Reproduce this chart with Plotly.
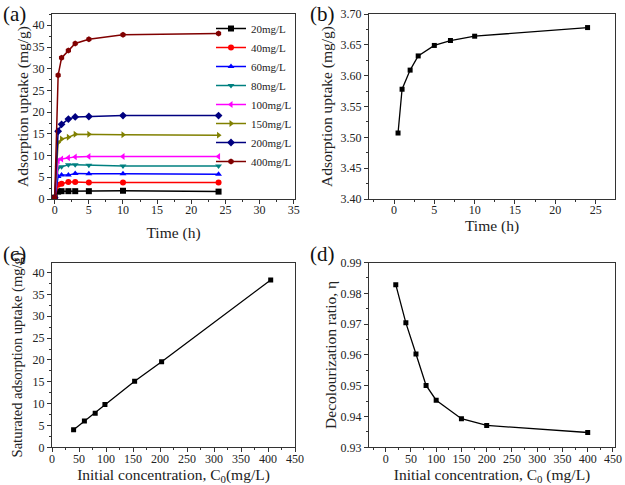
import plotly.graph_objects as go

# ---------- data ----------
# (a) adsorption kinetics for different initial concentrations
time_a = [0, 0.5, 1, 2, 3, 5, 10, 24]
conc_labels = ["20mg/L", "40mg/L", "60mg/L", "80mg/L", "100mg/L", "150mg/L", "200mg/L", "400mg/L"]
q_20 = [0.3, 1.7, 1.8, 1.8, 1.8, 1.8, 1.9, 1.7]
q_40 = [0.3, 3.3, 3.5, 3.9, 3.9, 3.8, 3.8, 3.8]
q_60 = [0.3, 5.2, 5.5, 5.5, 5.9, 5.8, 5.8, 5.7]
q_80 = [0.3, 7.2, 7.4, 7.9, 7.9, 7.8, 7.6, 7.6]
q_100 = [0.3, 8.8, 9.2, 9.5, 9.7, 9.8, 9.8, 9.8]
q_150 = [0.3, 13.0, 13.8, 14.2, 14.9, 14.9, 14.8, 14.7]
q_200 = [0.3, 15.6, 17.2, 18.4, 18.9, 19.0, 19.2, 19.2]
q_400 = [0.3, 28.5, 32.5, 34.2, 35.8, 36.8, 37.8, 38.1]

# (b) 40 mg/L detail
time_b = [0.5, 1, 2, 3, 5, 7, 10, 24]
q_b = [3.507, 3.578, 3.609, 3.632, 3.649, 3.657, 3.664, 3.678]

# (c) saturated uptake vs initial concentration
c0_c = [40, 60, 80, 98, 153, 203, 405]
qs_c = [4.0, 6.0, 7.8, 9.8, 15.1, 19.6, 38.3]

# (d) decolourization ratio vs initial concentration
c0_d = [20, 40, 60, 80, 100, 150, 200, 400]
eta_d = [0.9828, 0.9704, 0.9603, 0.9501, 0.9453, 0.9393, 0.9371, 0.9348]

# ---------- styling ----------
FONT = "Liberation Serif, Times New Roman, serif"
series_a = [q_20, q_40, q_60, q_80, q_100, q_150, q_200, q_400]
colors_a = ["#000000", "#ff0000", "#0000ff", "#008080", "#ff00ff", "#808000", "#000080", "#800000"]
symbols_a = ["square", "circle", "triangle-up", "triangle-down", "triangle-left",
             "triangle-right", "diamond", "hexagon"]

W, H = 625, 485
fig = go.Figure()

for lab, ys, col, sym in zip(conc_labels, series_a, colors_a, symbols_a):
    fig.add_trace(go.Scatter(x=time_a, y=ys, name=lab, mode="lines+markers",
                             line=dict(color=col, width=1.5),
                             marker=dict(symbol=sym, size=6, color=col),
                             xaxis="x", yaxis="y"))

blk = dict(color="#000000", width=1.3)
fig.add_trace(go.Scatter(x=time_b, y=q_b, mode="lines+markers", line=blk,
                         marker=dict(symbol="square", size=5, color="#000000"),
                         showlegend=False, xaxis="x2", yaxis="y2"))
fig.add_trace(go.Scatter(x=c0_c, y=qs_c, mode="lines+markers", line=blk,
                         marker=dict(symbol="square", size=5, color="#000000"),
                         showlegend=False, xaxis="x3", yaxis="y3"))
fig.add_trace(go.Scatter(x=c0_d, y=eta_d, mode="lines+markers", line=blk,
                         marker=dict(symbol="square", size=5, color="#000000"),
                         showlegend=False, xaxis="x4", yaxis="y4"))


def px_dom_x(a, b):
    return [a / W, b / W]


def px_dom_y(top, bottom):
    return [(H - bottom) / H, (H - top) / H]


def axis(dom, rng, dtick, minor_dtick, title, standoff, anchor, fmt=None,
         label_shift=0, tick0=0, title_size=15.5):
    d = dict(domain=dom, range=rng, dtick=dtick, tick0=tick0, anchor=anchor,
             showline=True, mirror=True, linecolor="#333333", linewidth=1,
             ticks="outside", ticklen=4, tickwidth=1, tickcolor="#333333",
             showgrid=False, zeroline=False,
             minor=dict(ticks="outside", ticklen=2, dtick=minor_dtick, tick0=tick0,
                        tickcolor="#333333", showgrid=False),
             tickfont=dict(family=FONT, size=12, color="#222222"),
             ticklabelstandoff=label_shift,
             title=dict(text=title, standoff=standoff,
                        font=dict(family=FONT, size=title_size, color="#222222")),
             automargin=False)
    if fmt:
        d["tickformat"] = fmt
    return d


xa = px_dom_x(52, 295)
xb = px_dom_x(369, 615)
ytop = px_dom_y(14, 199)
ybot = px_dom_y(262.5, 447.3)

fig.update_layout(
    width=W, height=H,
    margin=dict(l=0, r=0, t=0, b=0),
    paper_bgcolor="white", plot_bgcolor="white",
    font=dict(family=FONT, size=12, color="#222222"),
    xaxis=axis(xa, [-0.4, 35.2], 5, 2.5, "Time (h)", 10, "y", label_shift=-4),
    yaxis=axis(ytop, [0, 42.6], 5, 2.5, "Adsorption uptake (mg/g)", 0, "x"),
    xaxis2=axis(xb, [-3.1, 27.4], 5, 2.5, "Time (h)", 3, "y2", label_shift=-4),
    yaxis2=axis(ytop, [3.40, 3.70], 0.05, 0.025, "Adsorption uptake (mg/g)", 4, "x2", ".2f"),
    xaxis3=axis(xa, [0, 450], 50, 25, "Initial concentration, C<sub>0</sub>(mg/L)", 7, "y3",
                label_shift=-4),
    yaxis3=axis(ybot, [0, 42.3], 5, 2.5, "Saturated adsorption uptake (mg/g)", 6, "x3",
                title_size=14.5),
    xaxis4=axis(xb, [-33, 454], 50, 25, "Initial concentration, C<sub>0</sub> (mg/L)", 7, "y4",
                label_shift=-4),
    yaxis4=axis(ybot, [0.93, 0.99], 0.01, 0.005, "Decolourization ratio, η", 0, "x4", ".2f"),
    legend=dict(x=297 / W, y=(H - 14) / H, xanchor="right", yanchor="top",
                bgcolor="rgba(0,0,0,0)", borderwidth=0,
                font=dict(family=FONT, size=11, color="#222222"),
                itemwidth=30, tracegroupgap=0),
    showlegend=True,
)

for txt, x, y in [("(a)", 1, 0), ("(b)", 308, 0), ("(c)", 1, 240), ("(d)", 308, 240)]:
    fig.add_annotation(text=txt, xref="paper", yref="paper", x=x / W, y=(H - y) / H,
                       xanchor="left", yanchor="top", showarrow=False,
                       font=dict(family=FONT, size=21, color="#111111"))

fig.write_html("out.html",
               config={"displayModeBar": False},
               post_script="document.body.style.margin='0';document.body.style.overflow='hidden';")
